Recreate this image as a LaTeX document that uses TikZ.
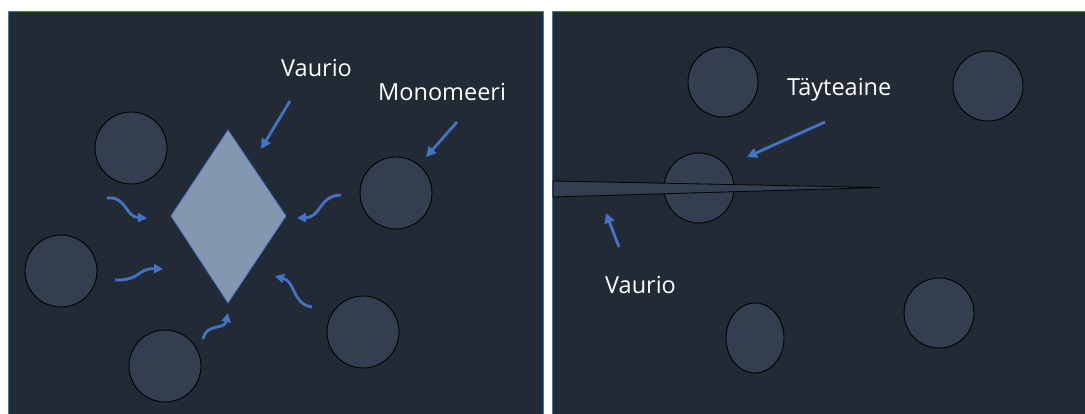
\documentclass[tikz,border=0pt]{standalone}
\usepackage{fontspec}
\setmainfont{Open Sans}
\usetikzlibrary{arrows.meta}
\definecolor{matrixbg}{HTML}{222A35}
\definecolor{filler}{HTML}{333F50}
\definecolor{flow}{HTML}{4472C4}
\definecolor{damage}{HTML}{8497B0}
\begin{document}
\begin{tikzpicture}[x=1pt,y=-1pt,font=\fontsize{23.5}{28}\selectfont,
  tag/.style={text=white,inner sep=0pt,anchor=base west},
  grain/.style={draw=black,fill=filler,line width=0.9pt},
  pointer/.style={flow,line width=2.8pt,-{Triangle[length=10pt,width=10pt]}},
  seep/.style={flow,line width=2.8pt,-{Triangle[length=9pt,width=9pt]}}]
\useasboundingbox (0,0) rectangle (1085,414);
\fill[white] (0,0) rectangle (1085,414);
% panels
\draw[flow,line width=0.9pt,fill=matrixbg] (8,11) rectangle (543,420);
\draw[flow,line width=0.9pt,fill=matrixbg] (552.5,11) rectangle (1092,420);
% (a) monomer flows into damage
\foreach \x/\y in {131/148,61/271,165/366,396/193,363/332} {\draw[grain] (\x,\y) circle (36);}
\draw[flow,line width=0.8pt,fill=damage] (228,130) -- (286,216) -- (228,303) -- (171,216) -- cycle;
\node[tag] (vaurioA) at (281,77) {Vaurio};
\node[tag] (mono) at (378,101) {Monomeeri};
\coordinate (vaurioAs) at (290,101);
\coordinate (vaurioAe) at (261,149);
\coordinate (monos) at (457,122);
\coordinate (monoe) at (426,157);
\draw[pointer] (vaurioAs) -- (vaurioAe);
\draw[pointer] (monos) -- (monoe);
\draw[seep] (107,198) .. controls (127,196) and (125,217) .. (147,218);
\draw[seep] (115,280) .. controls (140,281) and (138,268) .. (163,269);
\draw[seep] (203,339) .. controls (207,322) and (224,331) .. (228,313);
\draw[seep] (341,195) .. controls (318,196) and (322,217) .. (297,218);
\draw[seep] (312,307) .. controls (292,304) and (296,282) .. (275,276);
% (b) crack through filler
\foreach \x/\y in {723/82,988/86,699/188,939/313} {\draw[grain] (\x,\y) circle (35);}
\draw[grain] (755,338) ellipse (29 and 35);
\draw[black,line width=0.8pt,fill=filler] (553,181) -- (880,187.5) -- (553,197) -- cycle;
\node[tag] (tayte) at (787,96) {Täyteaine};
\node[tag] (vaurioB) at (605,294) {Vaurio};
\coordinate (taytes) at (825,122);
\coordinate (taytee) at (747,157);
\coordinate (vaurioBs) at (619,247);
\coordinate (vaurioBe) at (606,213);
\draw[pointer] (taytes) -- (taytee);
\draw[pointer] (vaurioBs) -- (vaurioBe);
\end{tikzpicture}
\end{document}
